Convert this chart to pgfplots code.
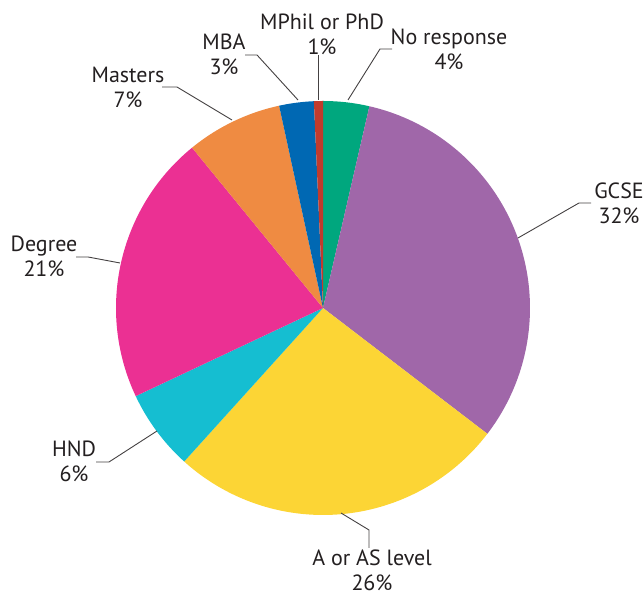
\documentclass[border=0pt]{standalone}
\usepackage{fontspec}
\setmainfont{PT Sans}
\usepackage{pgfplots}
\usepackage{pgfplotstable}
\pgfplotsset{compat=1.18}

\definecolor{cNR}{HTML}{00A77E}
\definecolor{cGCSE}{HTML}{A067A9}
\definecolor{cA}{HTML}{FCD535}
\definecolor{cHND}{HTML}{15BED1}
\definecolor{cDeg}{HTML}{EB3093}
\definecolor{cMas}{HTML}{EF8B42}
\definecolor{cMBA}{HTML}{0068B3}
\definecolor{cPhD}{HTML}{C13B2C}
\definecolor{ink}{HTML}{231F20}

% slice shares in percent, clockwise from 12 o'clock
\pgfplotstableread{
value color
3.6  cNR
31.8 cGCSE
26.3 cA
6.3  cHND
21.1 cDeg
7.5  cMas
2.7  cMBA
0.7  cPhD
}\piedata

\begin{document}
\begin{tikzpicture}[font=\fontsize{11}{12.5}\selectfont, text=ink]
\begin{axis}[
  x=0.5pt, y=0.5pt,
  xmin=-323, xmax=321, ymin=-289, ymax=308,
  hide axis, clip=false,
]
\pgfplotstablegetrowsof{\piedata}
\pgfmathtruncatemacro\nrows{\pgfplotsretval-1}
\def\cum{0}
\pgfplotsforeachungrouped \i in {0,...,\nrows}{%
  \pgfplotstablegetelem{\i}{value}\of\piedata \let\sliceval\pgfplotsretval
  \pgfplotstablegetelem{\i}{color}\of\piedata \let\slicecol\pgfplotsretval
  \pgfmathsetmacro\angA{90-3.6*\cum}
  \pgfmathsetmacro\angB{90-3.6*(\cum+\sliceval)}
  \edef\tmp{\noexpand\fill[\slicecol] (axis cs:0,0) -- (axis cs:{207*cos(\angA)},{207*sin(\angA)})
    arc[start angle=\angA, end angle=\angB, radius=103.5pt] -- cycle;}
  \tmp
  \pgfmathsetmacro\cum{\cum+\sliceval}
}

% leader lines
\draw[ink!85, line width=0.45pt] (axis cs:25,208) -- (axis cs:57,259) -- (axis cs:69,259);
\draw[ink!85, line width=0.45pt] (axis cs:-5,208) -- (axis cs:-5,253);
\draw[ink!85, line width=0.45pt] (axis cs:-25,208) -- (axis cs:-66,253) -- (axis cs:-78,253);
\draw[ink!85, line width=0.45pt] (axis cs:-91,188) -- (axis cs:-146,221) -- (axis cs:-161,221);
\draw[ink!85, line width=0.45pt] (axis cs:-203,45) -- (axis cs:-235,51) -- (axis cs:-247,51);
\draw[ink!85, line width=0.45pt] (axis cs:-166,-123) -- (axis cs:-214,-154) -- (axis cs:-227,-154);
\draw[ink!85, line width=0.45pt] (axis cs:18,-205) -- (axis cs:46,-222) -- (axis cs:46,-240);
\draw[ink!85, line width=0.45pt] (axis cs:195,70) -- (axis cs:256,105) -- (axis cs:268,105);

% labels
\tikzset{lab/.style={align=center, inner sep=0pt}}
\node[lab] at (axis cs:126,258.5) {No response\\4\%};
\node[lab] at (axis cs:-1,273.5) {MPhil or PhD\\1\%};
\node[lab] at (axis cs:-99,254) {MBA\\3\%};
\node[lab] at (axis cs:-195,220.5) {Masters\\7\%};
\node[lab] at (axis cs:-279,52) {Degree\\21\%};
\node[lab] at (axis cs:-249,-153) {HND\\6\%};
\node[lab] at (axis cs:49,-262.5) {A or AS level\\26\%};
\node[lab] at (axis cs:296,105) {GCSE\\32\%};
\end{axis}
\pgfresetboundingbox
\path (current axis.south west) rectangle (current axis.north east);
\end{tikzpicture}
\end{document}
